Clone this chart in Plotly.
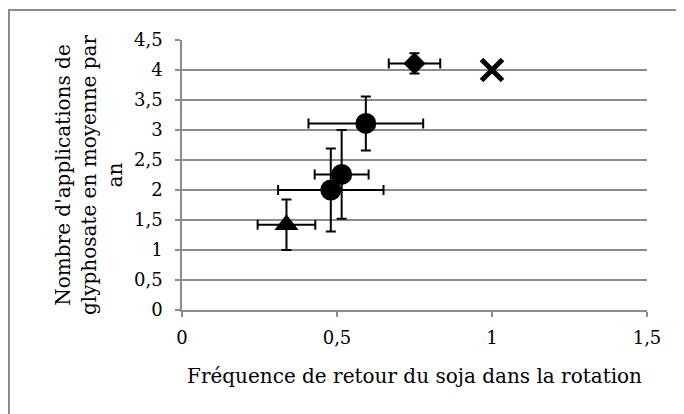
import plotly.graph_objects as go

# Data
x_vals = [0.75, 1.0, 0.593, 0.515, 0.48, 0.337]
y_vals = [4.11, 4.0, 3.11, 2.26, 2.0, 1.42]
x_err = [0.083, None, 0.185, 0.087, 0.17, 0.093]
y_err = [0.17, None, 0.45, 0.74, 0.69, 0.42]
symbols = ["diamond", "x-thin", "circle", "circle", "circle", "triangle-up"]
sizes = [17, 21, 21, 21, 21, 21]

x_title = "Fréquence de retour du soja dans la rotation"
y_title = "Nombre d'applications de<br>glyphosate en moyenne par<br>an"
x_ticks = [0, 0.5, 1, 1.5]
x_tick_text = ["0", "0,5", "1", "1,5"]
y_ticks = [0, 0.5, 1, 1.5, 2, 2.5, 3, 3.5, 4, 4.5]
y_tick_text = ["0", "0,5", "1", "1,5", "2", "2,5", "3", "3,5", "4", "4,5"]

FONT = "DejaVu Serif"
GRID = "#8c8c8c"

fig = go.Figure()
for xv, yv, ex, ey, sym, sz in zip(x_vals, y_vals, x_err, y_err, symbols, sizes):
    has_err = ex is not None
    marker = dict(symbol=sym, size=sz, color="black")
    if sym == "x-thin":
        marker["line"] = dict(color="black", width=5)
    fig.add_trace(go.Scatter(
        x=[xv], y=[yv], mode="markers", marker=marker,
        error_x=dict(type="data", array=[ex] if has_err else [0], visible=has_err,
                     color="black", thickness=2, width=5),
        error_y=dict(type="data", array=[ey] if has_err else [0], visible=has_err,
                     color="black", thickness=2, width=5),
        showlegend=False, cliponaxis=False,
    ))

W, H = 676, 406
L, R, T, B = 174, 37, 32, 104
fig.update_layout(
    width=W, height=H,
    margin=dict(l=L, r=R, t=T, b=B),
    paper_bgcolor="white", plot_bgcolor="white",
    font=dict(family=FONT, size=18, color="black"),
    showlegend=False,
)
fig.update_xaxes(
    range=[0, 1.5], tickvals=x_ticks, ticktext=x_tick_text,
    showgrid=False, zeroline=False,
    showline=True, linecolor=GRID, linewidth=1.5,
    ticks="outside", ticklen=5, tickcolor=GRID, tickwidth=1.5,
    ticklabelstandoff=6,
    tickfont=dict(family=FONT, size=18),
    title=dict(text=x_title, font=dict(family=FONT, size=20), standoff=22),
)
fig.update_yaxes(
    range=[0, 4.5], tickvals=y_ticks, ticktext=y_tick_text,
    showgrid=True, gridcolor=GRID, gridwidth=1.5, zeroline=False,
    showline=True, linecolor=GRID, linewidth=1.5,
    ticks="outside", ticklen=5, tickcolor=GRID, tickwidth=1.5,
    ticklabelstandoff=9,
    tickfont=dict(family=FONT, size=18),
    title=dict(text=y_title, font=dict(family=FONT, size=20), standoff=6),
)
pw, ph = W - L - R, H - T - B
# chart-area border (runs off the right/bottom edges as in the reference)
fig.add_shape(type="rect", xref="paper", yref="paper",
              x0=(1 - L) / pw, x1=(W + 20 - L) / pw,
              y0=-(B + 20) / ph, y1=(ph + T - 2) / ph,
              line=dict(color=GRID, width=2), layer="below")

fig.write_html("out.html")
